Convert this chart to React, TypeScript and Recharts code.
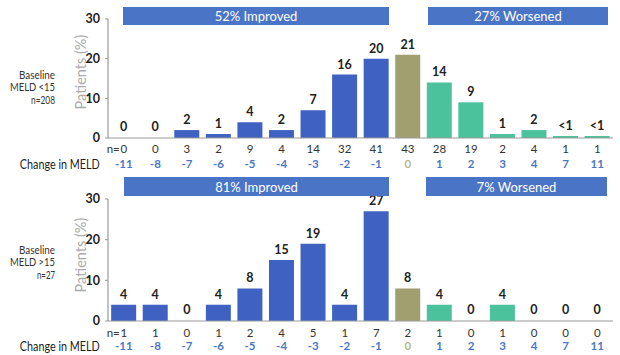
import React from "react";
import { BarChart, Bar, XAxis, YAxis, Cell, LabelList } from "recharts";

const categories = ["-11", "-8", "-7", "-6", "-5", "-4", "-3", "-2", "-1", "0", "1", "2", "3", "4", "7", "11"];
const topPct = [0, 0, 2, 1, 4, 2, 7, 16, 20, 21, 14, 9, 1, 2, 0.5, 0.5];
const topLabels = ["0", "0", "2", "1", "4", "2", "7", "16", "20", "21", "14", "9", "1", "2", "<1", "<1"];
const topN = [0, 0, 3, 2, 9, 4, 14, 32, 41, 43, 28, 19, 2, 4, 1, 1];
const bottomPct = [4, 4, 0, 4, 8, 15, 19, 4, 27, 8, 4, 0, 4, 0, 0, 0];
const bottomLabels = ["4", "4", "0", "4", "8", "15", "19", "4", "27", "8", "4", "0", "4", "0", "0", "0"];
const bottomN = [1, 1, 0, 1, 2, 4, 5, 1, 7, 2, 1, 0, 1, 0, 0, 0];
const yTicks = [0, 10, 20, 30];

const FONT = "Lato, 'Open Sans', sans-serif";
const BLUE = "#3F62C2";
const OLIVE = "#A09F70";
const GREEN = "#4CC29C";
const BANNER = "#4A74C6";
const AXIS = "#9A9A9A";

const barColor = (i: number, v: number) => (v === 0 ? "transparent" : i < 9 ? BLUE : i === 9 ? OLIVE : GREEN);

const makeTick = (nValues: number[], yOff: number, gap: number) => (props: any) => {
  const { x, y, payload } = props;
  const i = payload.index;
  return (
    <g>
      {i === 0 && (
        <text x={x - 4} y={y + yOff} textAnchor="end" dominantBaseline="central" fontSize={11.5} fill="#333" fontFamily={FONT}>
          n=
        </text>
      )}
      <text x={x} y={y + yOff} textAnchor="middle" dominantBaseline="central" fontSize={11.5} fill="#333" fontFamily={FONT}>
        {nValues[i]}
      </text>
      <text x={x} y={y + yOff + gap} textAnchor="middle" dominantBaseline="central" fontSize={11.5} fontWeight={700} fill={i === 9 ? "#B8B88E" : "#4A78C6"} fontFamily={FONT}>
        {payload.value}
      </text>
      {i === 0 && (
        <text x={x - 24} y={y + yOff + gap} textAnchor="end" dominantBaseline="central" fontSize={14} fill="#222" fontFamily={FONT} textLength={80} lengthAdjust="spacingAndGlyphs">
          Change in MELD
        </text>
      )}
    </g>
  );
};

function Panel(props: { pct: number[]; labels: string[]; n: number[]; top: number; height: number; marginTop: number; xHeight: number; yOff: number; gap: number }) {
  const data = categories.map((c, i) => ({ cat: c, pct: props.pct[i], label: props.labels[i] }));
  return (
    <div style={{ position: "absolute", left: 0, top: props.top }}>
      <BarChart width={620} height={props.height} data={data} margin={{ top: props.marginTop, right: 7, bottom: 0, left: 0 }} barCategoryGap="10%">
        <XAxis
          dataKey="cat"
          interval={0}
          height={props.xHeight}
          tickLine={false}
          tickSize={0}
          tickMargin={0}
          axisLine={{ stroke: AXIS, strokeWidth: 1.2 }}
          tick={makeTick(props.n, props.yOff, props.gap)}
        />
        <YAxis
          width={108}
          domain={[0, 30]}
          ticks={yTicks}
          interval={0}
          tickSize={3}
          tickMargin={5}
          tickLine={{ stroke: AXIS }}
          axisLine={{ stroke: AXIS, strokeWidth: 1.2 }}
          tick={{ fontSize: 12.5, fill: "#222", fontWeight: 700, fontFamily: FONT }}
        />
        <Bar dataKey="pct" isAnimationActive={false} minPointSize={1}>
          {data.map((d, i) => (
            <Cell key={d.cat} fill={barColor(i, d.pct)} />
          ))}
          <LabelList dataKey="label" position="top" offset={6} style={{ fontSize: 12.5, fontWeight: 700, fill: "#222", fontFamily: FONT }} />
        </Bar>
      </BarChart>
    </div>
  );
}

const bannerStyle = (left: number, top: number, width: number, height: number): React.CSSProperties => ({
  position: "absolute",
  left,
  top,
  width,
  height,
  background: BANNER,
  color: "#fff",
  fontFamily: FONT,
  fontSize: 13,
  display: "flex",
  alignItems: "center",
  justifyContent: "center",
});

const sideText = (x: number, y: number, s: string, w: number) => (
  <text x={x} y={y} dominantBaseline="central" textLength={w} lengthAdjust="spacingAndGlyphs">
    {s}
  </text>
);

export default function App() {
  return (
    <div style={{ position: "absolute", left: 0, top: 0, width: 620, height: 355, background: "#fff", overflow: "hidden" }}>
      <Panel pct={topPct} labels={topLabels} n={topN} top={0} height={175} marginTop={19} xHeight={37} yOff={10.5} gap={14.5} />
      <Panel pct={bottomPct} labels={bottomLabels} n={bottomN} top={175} height={180} marginTop={24} xHeight={34} yOff={11} gap={13.5} />

      <div style={bannerStyle(123, 7, 266, 18)}>52% Improved</div>
      <div style={bannerStyle(428, 7, 180, 18)}>27% Worsened</div>
      <div style={bannerStyle(124, 177, 265, 19)}>81% Improved</div>
      <div style={bannerStyle(426, 177, 181, 19)}>7% Worsened</div>

      <svg width={620} height={355} style={{ position: "absolute", left: 0, top: 0, pointerEvents: "none" }}>
        <g fontFamily={FONT} fontSize={12} fill="#333" textAnchor="end">
          {sideText(55, 74, "Baseline", 36)}
          {sideText(55, 86.5, "MELD <15", 45)}
          {sideText(55, 99, "n=208", 24)}
          {sideText(55, 249, "Baseline", 36)}
          {sideText(55, 261.5, "MELD >15", 45)}
          {sideText(55, 274, "n=27", 18)}
        </g>
        <g fontFamily={FONT} fontSize={14.5} fill="#ABABAB" textAnchor="middle">
          <text x={80} y={72} dominantBaseline="central" transform="rotate(-90 80 72)">Patients (%)</text>
          <text x={80} y={255} dominantBaseline="central" transform="rotate(-90 80 255)">Patients (%)</text>
        </g>
      </svg>
    </div>
  );
}
